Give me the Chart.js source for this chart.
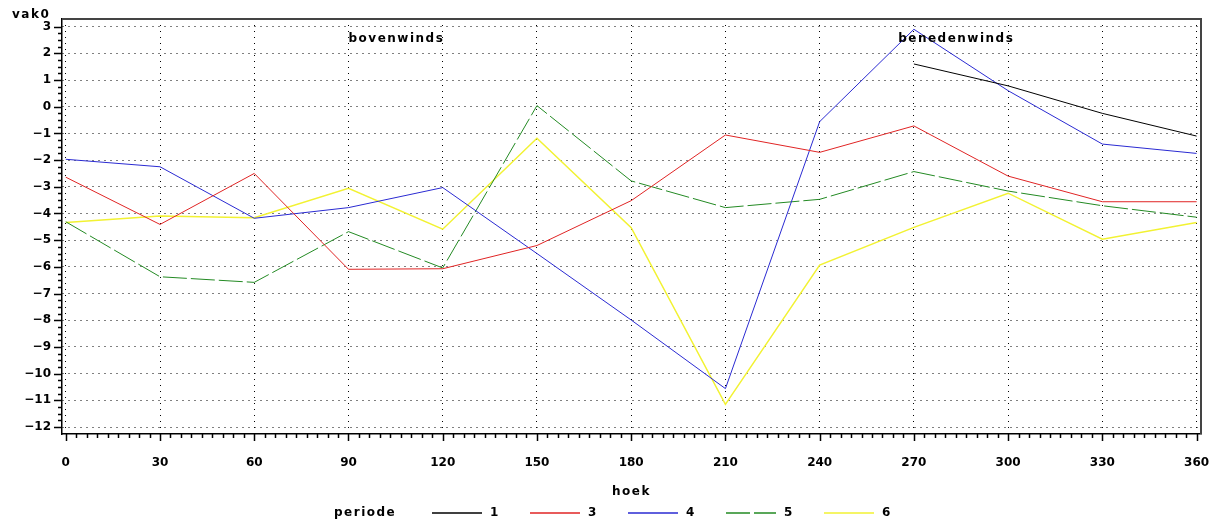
<!DOCTYPE html>
<html>
<head>
<meta charset="utf-8">
<script src="https://cdn.jsdelivr.net/npm/chart.js@4.4.1/dist/chart.umd.min.js"></script>
<style>
  html, body { margin: 0; padding: 0; background: #fff; }
</style>
</head>
<body>
<canvas id="grafico" width="1224" height="524"></canvas>
<script>
// hoek (graden) op de x-as
var hoek = [0, 30, 60, 90, 120, 150, 180, 210, 240, 270, 300, 330, 360];

// vak0 per periode
var vak_periode1 = [null, null, null, null, null, null, null, null, null, 1.6, 0.78, -0.25, -1.1];
var vak_periode3 = [-2.64, -4.41, -2.5, -6.09, -6.07, -5.2, -3.52, -1.06, -1.71, -0.72, -2.6, -3.56, -3.56];
var vak_periode4 = [-1.97, -2.25, -4.18, -3.78, -3.03, -5.5, -7.99, -10.56, -0.56, 2.9, 0.6, -1.4, -1.75];
var vak_periode5 = [-4.31, -6.37, -6.58, -4.68, -6.04, 0.04, -2.78, -3.78, -3.47, -2.43, -3.16, -3.71, -4.14];
var vak_periode6 = [-4.34, -4.09, -4.16, -3.06, -4.59, -1.18, -4.53, -11.15, -5.93, -4.52, -3.24, -4.96, -4.34];

var periodes = ['1', '3', '4', '5', '6'];
var kleuren = ['#000000', '#e02424', '#2a2ad2', '#238a23', '#f2f232'];

var yLabels = [-12, -11, -10, -9, -8, -7, -6, -5, -4, -3, -2, -1, 0, 1, 2, 3];
var annotaties = ['bovenwinds', 'benedenwinds'];

var FONT = 'bold 12px "DejaVu Sans", sans-serif';

function punten(reeks) {
    return hoek.map(function (h, i) { return { x: h, y: reeks[i] }; });
}

function isMajorX(v) { return Math.abs(v - Math.round(v / 30) * 30) < 1e-6; }
function isMajorY(v) { return Math.abs(v - Math.round(v)) < 1e-6; }

// assen, kader, teksten en legenda
const extras = {
    id: 'extras',
    afterDraw(chart) {
        const ctx = chart.ctx;
        const area = chart.chartArea;
        const sx = chart.scales.x, sy = chart.scales.y;
        ctx.save();
        // tick marks
        ctx.strokeStyle = '#000';
        ctx.lineWidth = 1.5;
        ctx.beginPath();
        sx.ticks.forEach(function (t) {
            const px = Math.round(sx.getPixelForValue(t.value)) + 0.5;
            ctx.moveTo(px, area.bottom);
            ctx.lineTo(px, area.bottom + (isMajorX(t.value) ? 7 : 4));
        });
        sy.ticks.forEach(function (t) {
            const py = Math.round(sy.getPixelForValue(t.value)) + 0.5;
            ctx.moveTo(area.left, py);
            ctx.lineTo(area.left - (isMajorY(t.value) ? 8 : 4), py);
        });
        ctx.stroke();
        // kader boven en rechts
        ctx.strokeStyle = '#444';
        ctx.lineWidth = 2;
        ctx.beginPath();
        ctx.moveTo(area.left, area.top);
        ctx.lineTo(area.right, area.top);
        ctx.lineTo(area.right, area.bottom);
        ctx.stroke();

        ctx.fillStyle = '#000';
        ctx.font = FONT;
        ctx.letterSpacing = '1.5px';
        ctx.textBaseline = 'middle';
        // as-titels
        ctx.textAlign = 'left';
        ctx.fillText('vak0', 12, 15);
        ctx.textAlign = 'center';
        ctx.fillText('hoek', (area.left + area.right) / 2, 492);
        // bovenwinds / benedenwinds
        ctx.textAlign = 'left';
        ctx.fillText(annotaties[0], sx.getPixelForValue(90), sy.getPixelForValue(2.55));
        ctx.fillText(annotaties[1], sx.getPixelForValue(265), sy.getPixelForValue(2.55));
        // legenda
        const ly = 513;
        let lx = 334;
        ctx.fillText('periode', lx, ly);
        lx += 98;
        chart.data.datasets.forEach(function (ds) {
            ctx.strokeStyle = ds.borderColor;
            ctx.lineWidth = 1.5;
            ctx.setLineDash(ds.borderDash || []);
            ctx.beginPath();
            ctx.moveTo(lx, ly);
            ctx.lineTo(lx + 50, ly);
            ctx.stroke();
            ctx.setLineDash([]);
            ctx.fillText(ds.label, lx + 58, ly);
            lx += 98;
        });
        ctx.restore();
    }
};

const grafico = document.getElementById('grafico');

const myChart = new Chart(grafico, {
    type: 'line',
    data: {
        datasets: [
            { label: periodes[0], data: punten(vak_periode1), borderColor: kleuren[0] },
            { label: periodes[1], data: punten(vak_periode3), borderColor: kleuren[1] },
            { label: periodes[2], data: punten(vak_periode4), borderColor: kleuren[2] },
            { label: periodes[3], data: punten(vak_periode5), borderColor: kleuren[3], borderDash: [24, 4] },
            { label: periodes[4], data: punten(vak_periode6), borderColor: kleuren[4], borderWidth: 1.5 }
        ]
    },
    options: {
        responsive: false,
        devicePixelRatio: 1,
        animation: false,
        layout: { padding: { top: 19, right: 23, left: 0, bottom: 0 } },
        elements: {
            point: { radius: 0 },
            line: { borderWidth: 1, tension: 0 }
        },
        plugins: {
            legend: { display: false },
            tooltip: { enabled: false }
        },
        scales: {
            x: {
                type: 'linear',
                min: -1.2,
                max: 361.4,
                afterBuildTicks: function (scale) {
                    const t = [];
                    for (let i = 0; i <= 108; i++) t.push({ value: i * 30 / 9 });
                    scale.ticks = t;
                },
                afterFit: function (scale) {
                    scale.height = 90;
                    scale.paddingLeft = 0;
                    scale.paddingRight = 0;
                },
                ticks: {
                    autoSkip: false,
                    maxRotation: 0,
                    padding: 22,
                    color: '#000',
                    font: { family: '"DejaVu Sans", sans-serif', size: 12, weight: 'bold' },
                    callback: function (v) { return isMajorX(v) ? String(Math.round(v)) : ''; }
                },
                grid: {
                    drawTicks: false,
                    color: function (c) { return c.tick && isMajorX(c.tick.value) ? '#000' : 'rgba(0,0,0,0)'; },
                    lineWidth: 1
                },
                border: { display: true, color: '#000', width: 1.5, dash: [1, 5] }
            },
            y: {
                min: -12.26,
                max: 3.285,
                afterBuildTicks: function (scale) {
                    const t = [];
                    for (let v = yLabels[0]; v <= yLabels[yLabels.length - 1] + 1e-9; v += 0.25) t.push({ value: v });
                    scale.ticks = t;
                },
                afterFit: function (scale) {
                    scale.width = 62;
                    scale.paddingTop = 0;
                    scale.paddingBottom = 0;
                },
                ticks: {
                    autoSkip: false,
                    padding: 11,
                    color: '#000',
                    font: { family: '"DejaVu Sans", sans-serif', size: 12, weight: 'bold' },
                    callback: function (v) {
                        if (!isMajorY(v)) return '';
                        const n = Math.round(v);
                        return n < 0 ? '\u2212' + Math.abs(n) : String(n);
                    }
                },
                grid: {
                    drawTicks: false,
                    color: function (c) { return c.tick && isMajorY(c.tick.value) ? '#000' : 'rgba(0,0,0,0)'; },
                    lineWidth: 1
                },
                border: { display: true, color: '#000', width: 1.5, dash: [1, 5] }
            }
        }
    },
    plugins: [extras]
});
</script>
</body>
</html>
